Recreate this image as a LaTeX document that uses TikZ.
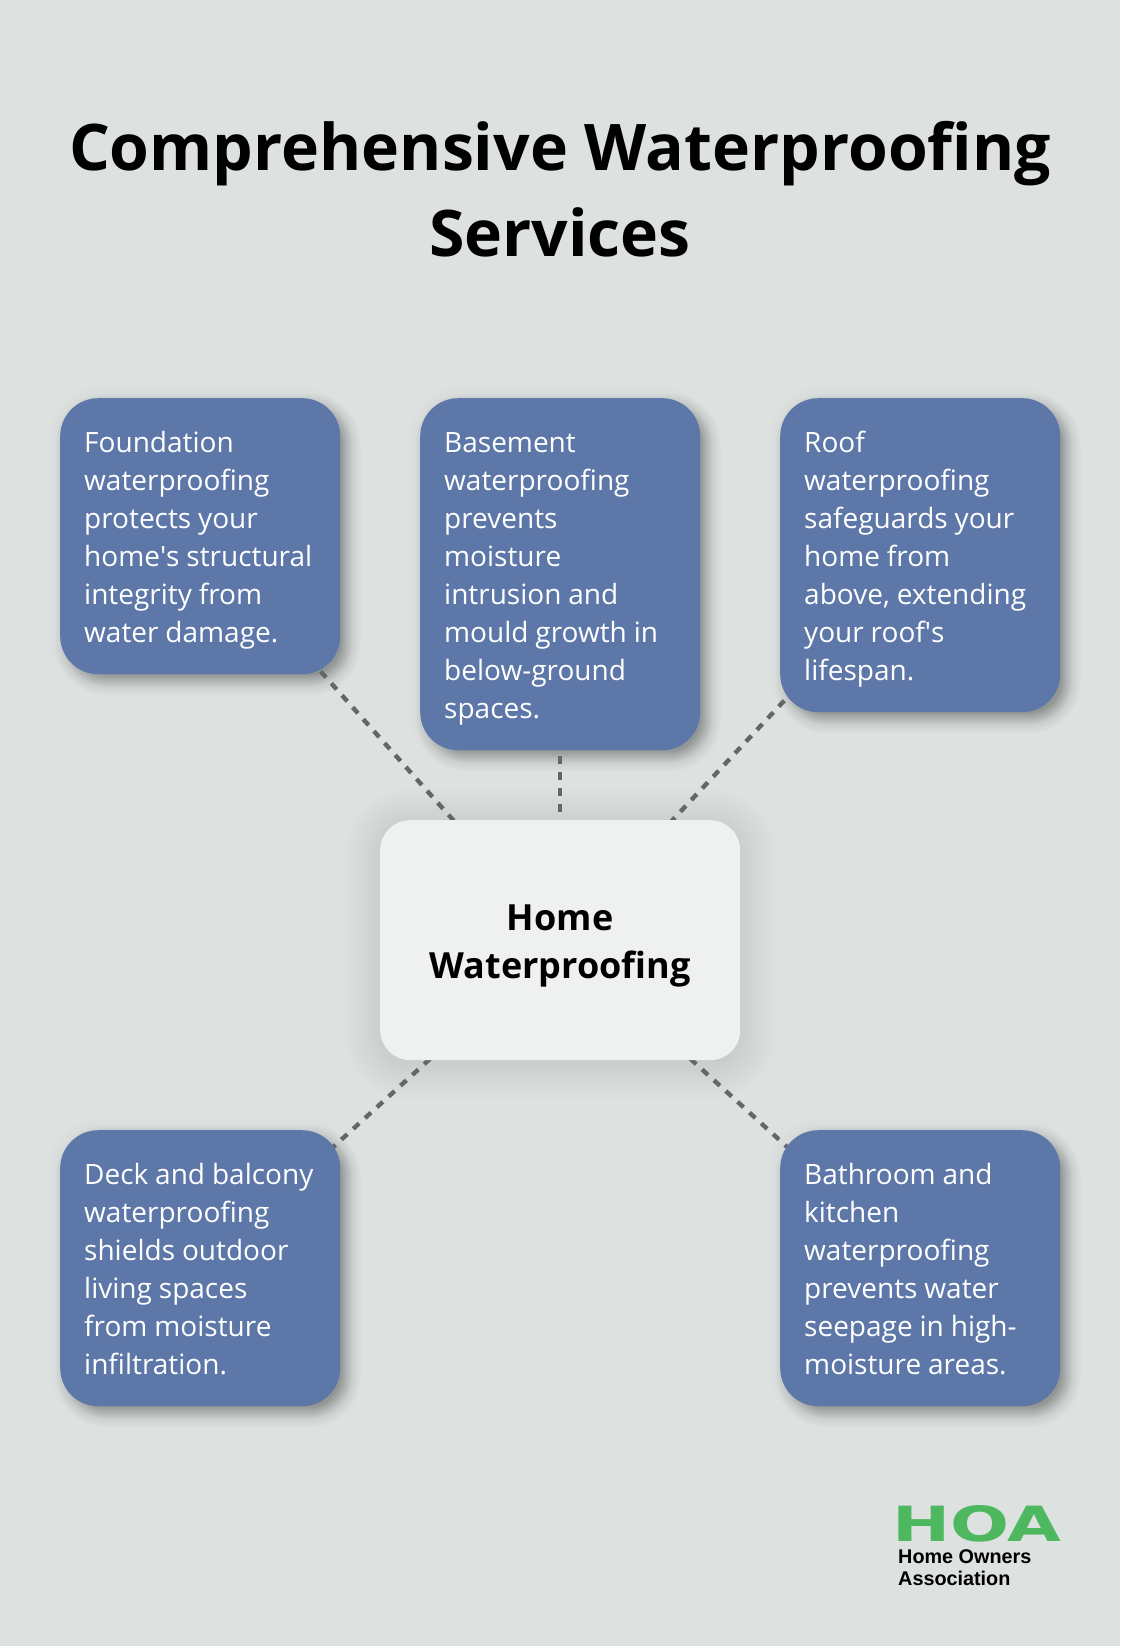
\documentclass[tikz,border=0pt]{standalone}
\usepackage{fontspec}
\usepackage{graphicx}
\usetikzlibrary{calc}
\setmainfont{Open Sans}
\newfontfamily\logofont{Liberation Sans}
\newfontfamily\hoafont{DejaVu Sans}
\hyphenpenalty=10000
\definecolor{pagebg}{HTML}{DDE1E0}
\definecolor{boxblue}{HTML}{5C77A8}
\definecolor{boxlight}{HTML}{EFF1F0}
\definecolor{dashgrey}{HTML}{666666}
\definecolor{hoagreen}{HTML}{4DB85F}
\pgfdeclarelayer{pagelayer}
\pgfdeclarelayer{shadowlayer}
\pgfdeclarelayer{linelayer}
\pgfsetlayers{pagelayer,shadowlayer,linelayer,main}
\newcommand{\tl}[1]{\rule[-8pt]{0pt}{38pt}\mbox{\spaceskip=6.9pt\relax #1}}
% #1 node, #2 radius, #3 x offset, #4 y offset, #5 list of growth values, #6 opacity
\newcommand{\softshadow}[6]{%
  \foreach \g in {#5}{%
    \pgfmathsetmacro{\rr}{max(2,#2+\g)}
    \fill[black,fill opacity=#6,rounded corners=\rr pt]
      ($(#1.north west)+(#3-\g,#4-\g)$) rectangle ($(#1.south east)+(#3+\g,#4+\g)$);
  }}
\newcommand{\boxshadow}[1]{%
  \softshadow{#1}{38}{0}{0}{2,4,...,12}{0.004}%
  \softshadow{#1}{38}{8}{8}{-8,-7,...,13}{0.008}%
  \softshadow{#1}{38}{8}{8}{-8,-7,...,4}{0.007}}
\tikzset{
  bluebox/.style={anchor=north west,fill=boxblue,text=white,rounded corners=38pt,
    inner xsep=24pt,inner ysep=24pt,text width=232pt,align=left,
    font=\fontsize{28}{38}\selectfont},
  hubbox/.style={anchor=north west,fill=boxlight,text=black,rounded corners=30pt,
    minimum width=360pt,minimum height=240pt,inner sep=0pt,align=center,
    font=\fontsize{36}{48}\selectfont\bfseries},
  conn/.style={draw=dashgrey,line width=4.4pt,dash pattern=on 8pt off 8pt},
  titletext/.style={align=center,font=\fontsize{64.3}{86}\selectfont\bfseries,text=black,inner sep=0pt},
}
\begin{document}
\begin{tikzpicture}[x=1pt,y=-1pt]
\useasboundingbox (0,0) rectangle (1120,1646);
\begin{pgfonlayer}{pagelayer}
\fill[pagebg] (0,0) rectangle (1120,1646);
\end{pgfonlayer}
\node[titletext] (title) at (560,189) {Comprehensive Waterproofing\\Services};
\node[bluebox] (b1) at (60,398) {\tl{Foundation}\\\tl{waterproofing}\\\tl{protects your}\\\tl{home\textquotesingle s structural}\\\tl{integrity from}\\\tl{water damage.}};
\node[bluebox] (b2) at (420,398) {\tl{Basement}\\\tl{waterproofing}\\\tl{prevents}\\\tl{moisture}\\\tl{intrusion and}\\\tl{mould growth in}\\\tl{below-ground}\\\tl{spaces.}};
\node[bluebox] (b3) at (780,398) {\tl{Roof}\\\tl{waterproofing}\\\tl{safeguards your}\\\tl{home from}\\\tl{above, extending}\\\tl{your roof\textquotesingle s}\\\tl{lifespan.}};
\node[bluebox] (b4) at (60,1130) {\tl{Deck and balcony}\\\tl{waterproofing}\\\tl{shields outdoor}\\\tl{living spaces}\\\tl{from moisture}\\\tl{infiltration.}};
\node[bluebox] (b5) at (780,1130) {\tl{Bathroom and}\\\tl{kitchen}\\\tl{waterproofing}\\\tl{prevents water}\\\tl{seepage in high-}\\\tl{moisture areas.}};
\node[hubbox] (hub) at (380,820) {\rule{0pt}{38pt}Home\\Waterproofing};
\begin{pgfonlayer}{shadowlayer}
\boxshadow{b1}
\boxshadow{b2}
\boxshadow{b3}
\boxshadow{b4}
\boxshadow{b5}
\softshadow{hub}{30}{0}{4}{-4,-2,...,36}{0.005}
\end{pgfonlayer}
\begin{pgfonlayer}{linelayer}
\draw[conn] (hub.center) -- (b1.center);
\draw[conn] (hub.center) -- (b2.center);
\draw[conn] (hub.center) -- (b3.center);
\draw[conn] (hub.center) -- (b4.center);
\draw[conn] (hub.center) -- (b5.center);
\end{pgfonlayer}
\node[anchor=south west,inner sep=0pt,text=hoagreen] (hoa) at (892,1542) {\resizebox{169pt}{36pt}{\hoafont\bfseries HOA}};
\node[anchor=base west,inner sep=0pt,text=black,font=\logofont\bfseries\fontsize{19.8}{22}\selectfont] (hoa1) at (898,1563.5) {Home Owners};
\node[anchor=base west,inner sep=0pt,text=black,font=\logofont\bfseries\fontsize{19.8}{22}\selectfont] (hoa2) at (898,1585.5) {Association};
\end{tikzpicture}
\end{document}
